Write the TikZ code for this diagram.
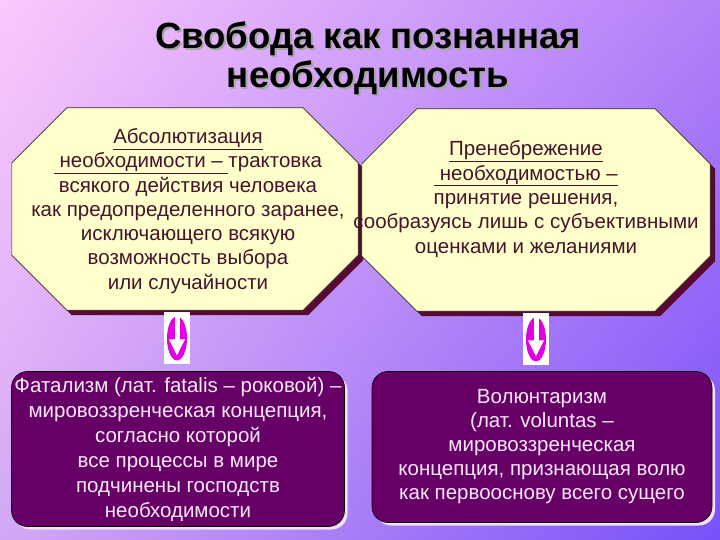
\documentclass[tikz,border=0pt]{standalone}
\usepackage{fontspec}
\setmainfont{Liberation Sans}
\usetikzlibrary{shadows,shadings,positioning}
\usepackage{xcolor}

\definecolor{bgpink}{RGB}{252,200,252}
\definecolor{bgviolet}{RGB}{178,128,248}
\definecolor{bglilac}{RGB}{210,168,245}
\definecolor{bgblue}{RGB}{120,80,248}
\definecolor{paleyellow}{RGB}{255,255,204}
\definecolor{maroon}{RGB}{90,10,50}
\definecolor{octtext}{RGB}{70,20,45}
\definecolor{plum}{RGB}{102,0,102}
\definecolor{boxtext}{RGB}{250,232,250}
\definecolor{ringpink}{RGB}{225,0,225}

\begin{document}
\begin{tikzpicture}[
        x=1pt, y=-1pt,
        every node/.style={font=\fontsize{20.5}{24.3}\selectfont},
        octa/.style={rectangle, inner sep=0pt, minimum width=346pt, minimum height=202pt},
        octline/.style={draw=black!80, line width=.6pt, fill=paleyellow,
            drop shadow={shadow xshift=5pt, shadow yshift=-5pt, fill=maroon, opacity=1}},
        octtxt/.style={align=center, text=octtext},
        pbox/.style={draw=black, line width=.6pt, rounded corners=16pt, fill=plum, inner sep=0pt,
            align=center, text=boxtext, font=\fontsize{20.5}{25}\selectfont,
            drop shadow={shadow xshift=3pt, shadow yshift=-3pt, fill=white!88!violet, opacity=1}},
        downicon/.style={fill=white, inner sep=0pt, minimum width=26pt, minimum height=52pt,
            path picture={
                \fill[ringpink] (path picture bounding box.center) ellipse [x radius=10pt, y radius=22pt];
                \fill[white] ([shift={(-2.5pt,26pt)}]path picture bounding box.center) rectangle ([shift={(2.5pt,-2pt)}]path picture bounding box.center);
                \fill[white] ([shift={(-8pt,-1pt)}]path picture bounding box.center) -- ([shift={(8pt,-1pt)}]path picture bounding box.center)
                    -- ([shift={(0pt,-17pt)}]path picture bounding box.center) -- cycle;
            }},
        titletxt/.style={align=center, font=\bfseries\fontsize{36.5}{39}\selectfont}
    ]
        \useasboundingbox (0,0) rectangle (720,540);
        \shade[upper left=bgpink, upper right=bgviolet, lower left=bglilac, lower right=bgblue] (0,0) rectangle (720,540);

        % Title with grey shadow
        \node[titletxt, text=black!35] (titleshadow) at (370,60) {Свобода как познанная\\необходимость};
        \node[titletxt] (title) at (368,58) {Свобода как познанная\\необходимость};

        % Octagons
        \node[octa] (octL) at (185,209) {};
        \node[octa, minimum width=348pt] (octR) at (536,210) {};
        \foreach \o in {octL,octR} {
            \draw[octline] ([xshift=55pt]\o.north west) -- ([xshift=-55pt]\o.north east)
                -- ([yshift=-55pt]\o.north east) -- ([yshift=55pt]\o.south east)
                -- ([xshift=-55pt]\o.south east) -- ([xshift=55pt]\o.south west)
                -- ([yshift=55pt]\o.south west) -- ([yshift=-55pt]\o.north west) -- cycle;
        }
        \node[octtxt] (absL) at ([xshift=3pt, yshift=-2pt]octL.center) {\underline{Абсолютизация}\\
            \underline{~необходимости – }трактовка\\
            всякого действия человека\\
            как предопределенного заранее,\\
            исключающего всякую\\
            возможность выбора\\
            или случайности};
        \node[octtxt] (negR) at ([xshift=-10pt, yshift=11pt]octR.center) {\underline{Пренебрежение}\\
            \underline{~необходимостью –}\\
            принятие решения,\\
            сообразуясь лишь с субъективными\\
            оценками и желаниями};

        % Down arrows
        \node[downicon, below=2pt of octL, xshift=-8pt] (arrL) {};
        \node[downicon, below=2pt of octR] (arrR) {};

        % Result boxes
        \node[pbox, minimum width=333pt, minimum height=155pt] (fatal) at (178,449) {\makebox[300pt]{Фатализм (лат. fatalis – роковой) –}\\
            мировоззренческая концепция,\\
            согласно которой\\
            все процессы в мире\\
            подчинены господств\\
            необходимости};
        \node[pbox, minimum width=340pt, minimum height=151pt, font=\fontsize{20.5}{24}\selectfont] (volunt) at (542,447) {Волюнтаризм\\
            (лат. voluntas –\\
            мировоззренческая\\
            концепция, признающая волю\\
            как первооснову всего сущего};
\end{tikzpicture}
\end{document}
